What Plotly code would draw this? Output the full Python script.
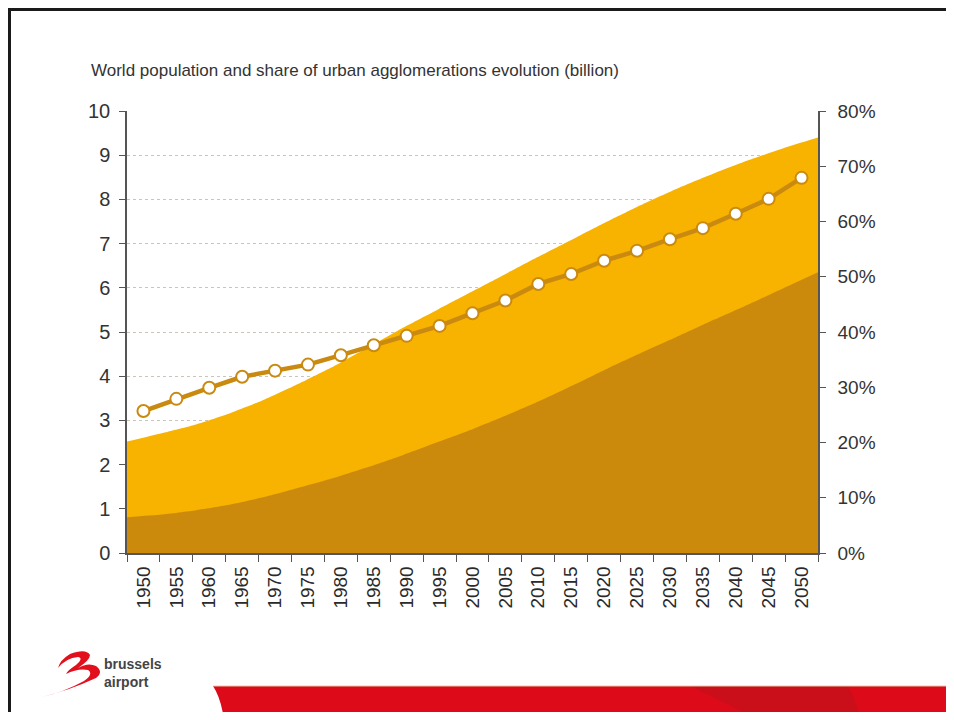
import plotly.graph_objects as go

# data
years = [1950, 1955, 1960, 1965, 1970, 1975, 1980, 1985, 1990, 1995, 2000,
         2005, 2010, 2015, 2020, 2025, 2030, 2035, 2040, 2045, 2050]
year_labels = [str(y) for y in years]
total_pop = [2.52, 2.71, 2.91, 3.17, 3.48, 3.84, 4.23, 4.66, 5.10, 5.51, 5.92,
             6.33, 6.74, 7.14, 7.54, 7.92, 8.27, 8.59, 8.89, 9.16, 9.40]
urban_pop = [0.81, 0.87, 0.97, 1.10, 1.27, 1.48, 1.70, 1.95, 2.22, 2.51, 2.80,
             3.12, 3.46, 3.83, 4.21, 4.57, 4.92, 5.28, 5.63, 5.99, 6.35]
urban_share = [0.257, 0.279, 0.299, 0.319, 0.330, 0.341, 0.358, 0.376, 0.393, 0.411, 0.434,
               0.457, 0.487, 0.505, 0.529, 0.547, 0.568, 0.588, 0.614, 0.641, 0.679]
left_ticks = list(range(0, 11))
right_ticks = [0, 0.1, 0.2, 0.3, 0.4, 0.5, 0.6, 0.7, 0.8]

# page is 954x720, the html body adds an 8px margin round the figure
PAGE_W, PAGE_H, OFF = 954, 720, 8
W, H = PAGE_W - 2 * OFF, PAGE_H - 2 * OFF
L, R, T, B = 127, 818, 111, 553  # plot area in page pixels


def px(x):
    return (x - L) / (R - L)


def py(y):
    return (B - y) / (B - T)


FONT = "Liberation Sans, Arial, sans-serif"
LIGHT = "#F8B200"
DARK = "#CB8A0C"
LINE = "#C98A0F"

fig = go.Figure()

fig.add_trace(go.Scatter(
    x=years, y=total_pop, mode="lines", fill="tozeroy",
    line=dict(color=LIGHT, width=0, shape="spline", smoothing=0.5),
    fillcolor=LIGHT, hoverinfo="skip", showlegend=False,
))
fig.add_trace(go.Scatter(
    x=years, y=urban_pop, mode="lines", fill="tozeroy",
    line=dict(color=DARK, width=0, shape="spline", smoothing=0.5),
    fillcolor=DARK, hoverinfo="skip", showlegend=False,
))
fig.add_trace(go.Scatter(
    x=year_labels, y=urban_share, mode="lines+markers",
    xaxis="x2", yaxis="y2",
    line=dict(color=LINE, width=4.5),
    marker=dict(size=12, color="white", line=dict(color=LINE, width=2)),
    showlegend=False,
))

# frame, red band and logo
shapes = [
    dict(type="line", xref="paper", yref="paper", x0=px(8), x1=px(PAGE_W), y0=py(9.5), y1=py(9.5),
         line=dict(color="#1a1a1a", width=3)),
    dict(type="line", xref="paper", yref="paper", x0=px(9.5), x1=px(9.5), y0=py(8), y1=py(PAGE_H),
         line=dict(color="#1a1a1a", width=3)),
    dict(type="path", xref="paper", yref="paper", line=dict(width=0), fillcolor="#DD0B1A",
         path=(f"M {px(213)},{py(686)} L {px(PAGE_W)},{py(686)} L {px(PAGE_W)},{py(PAGE_H)} "
               f"L {px(224)},{py(PAGE_H)} Q {px(221)},{py(698)} {px(213)},{py(686)} Z")),
    dict(type="path", xref="paper", yref="paper", line=dict(width=0), fillcolor="#B8121A",
         opacity=0.5,
         path=(f"M {px(690)},{py(686)} L {px(848)},{py(686)} Q {px(856)},{py(700)} {px(860)},{py(PAGE_H)} "
               f"L {px(760)},{py(PAGE_H)} Z")),
    dict(type="line", xref="paper", yref="paper", x0=px(213), x1=px(PAGE_W), y0=py(686), y1=py(686),
         line=dict(color="#E8C8A8", width=1)),
    # brussels airport swoosh
    dict(type="path", xref="paper", yref="paper", line=dict(width=0), fillcolor="#E2101C",
         path=(f"M {px(42)},{py(697)} Q {px(70)},{py(690)} {px(96)},{py(678)} "
               f"Q {px(104)},{py(672)} {px(96)},{py(666)} Q {px(88)},{py(662)} {px(78)},{py(668)} "
               f"Q {px(90)},{py(660)} {px(90)},{py(655)} Q {px(86)},{py(648)} {px(70)},{py(654)} "
               f"Q {px(60)},{py(660)} {px(58)},{py(668)} Q {px(66)},{py(658)} {px(78)},{py(657)} "
               f"Q {px(84)},{py(658)} {px(76)},{py(665)} Q {px(68)},{py(670)} {px(66)},{py(674)} "
               f"Q {px(78)},{py(668)} {px(88)},{py(670)} Q {px(94)},{py(674)} {px(84)},{py(681)} "
               f"Q {px(64)},{py(692)} {px(42)},{py(697)} Z")),
]

annotations = [
    dict(text="<b>brussels</b>", x=px(102), y=py(664), xref="paper", yref="paper",
         xanchor="left", yanchor="middle", showarrow=False,
         font=dict(family=FONT, size=14, color="#444444")),
    dict(text="<b>airport</b>", x=px(102), y=py(682), xref="paper", yref="paper",
         xanchor="left", yanchor="middle", showarrow=False,
         font=dict(family=FONT, size=14, color="#444444")),
]

fig.update_layout(
    width=W, height=H,
    margin=dict(l=L - OFF, r=W - (R - OFF), t=T - OFF, b=H - (B - OFF), pad=0),
    paper_bgcolor="white", plot_bgcolor="white",
    title=dict(
        text="World population and share of urban agglomerations evolution (billion)",
        x=(91 - OFF) / W, xanchor="left", xref="container",
        y=1 - (70 - OFF) / H, yanchor="middle", yref="container",
        font=dict(family=FONT, size=17, color="#333333"),
    ),
    xaxis=dict(range=[years[0], years[-1]], visible=False, showgrid=False),
    xaxis2=dict(
        type="category", overlaying="x", side="bottom",
        range=[-0.5, len(year_labels) - 0.5],
        tickangle=-90, ticks="outside", ticklen=7, tickcolor="#555555",
        tickson="boundaries", showline=True, linecolor="#555555", linewidth=1.5,
        showgrid=False, ticklabelstandoff=4,
        tickfont=dict(family=FONT, size=19, color="#2a2a2a"),
    ),
    yaxis=dict(
        range=[0, 10], tickvals=left_ticks, ticks="outside", ticklen=6,
        tickcolor="#555555", showline=True, linecolor="#555555", linewidth=1.5,
        showgrid=True, gridcolor="#cbc4bc", griddash="dot", gridwidth=1,
        zeroline=False, ticklabelstandoff=5,
        tickfont=dict(family=FONT, size=20, color="#333333"),
    ),
    yaxis2=dict(
        range=[0, 0.8], tickvals=right_ticks, tickformat=".0%", overlaying="y",
        side="right", ticks="outside", ticklen=6, tickcolor="#555555",
        showline=True, linecolor="#555555", linewidth=1.5, showgrid=False,
        zeroline=False, ticklabelstandoff=8,
        tickfont=dict(family=FONT, size=19, color="#333333"),
    ),
    shapes=shapes,
    annotations=annotations,
)

fig.write_html("out.html")
